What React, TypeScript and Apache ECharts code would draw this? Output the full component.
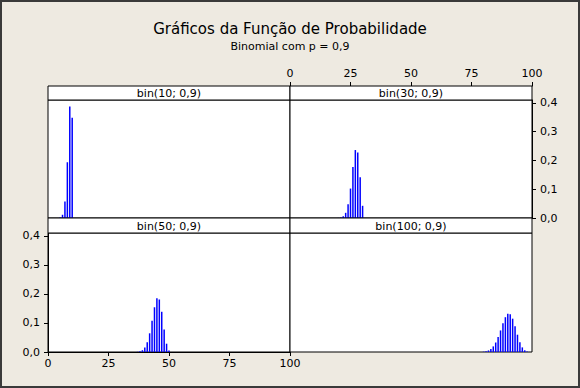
import React, { useEffect, useRef } from "react";
import * as echarts from "echarts";

// k values and probabilities
const k10 = [5, 6, 7, 8, 9, 10];
const p10 = [0.0015, 0.0112, 0.0574, 0.1937, 0.3874, 0.3487];

const k30 = [20, 21, 22, 23, 24, 25, 26, 27, 28, 29, 30];
const p30 = [0.0004, 0.0016, 0.0058, 0.018, 0.0474, 0.1023, 0.1771, 0.2361, 0.2277, 0.1413, 0.0424];

const k50 = [37, 38, 39, 40, 41, 42, 43, 44, 45, 46, 47, 48, 49, 50];
const p50 = [0.0007, 0.0022, 0.0061, 0.0152, 0.0333, 0.0644, 0.1076, 0.1541, 0.1849, 0.1809, 0.1386, 0.0779, 0.0286, 0.0052];

const k100 = [80, 81, 82, 83, 84, 85, 86, 87, 88, 89, 90, 91, 92, 93, 94, 95, 96, 97, 98, 99];
const p100 = [0.0012, 0.0026, 0.0054, 0.0106, 0.0193, 0.0327, 0.0513, 0.0743, 0.0988, 0.1199, 0.1319, 0.1304, 0.1148, 0.0889, 0.0596, 0.0339, 0.0159, 0.0059, 0.0016, 0.0003];

const panelTitles = ["bin(10; 0,9)", "bin(30; 0,9)", "bin(50; 0,9)", "bin(100; 0,9)"];
const xTicks = [0, 25, 50, 75, 100];
const yTicks = [0, 0.1, 0.2, 0.3, 0.4];

const mainTitle = "Gráficos da Função de Probabilidade";
const subTitle = "Binomial com p = 0,9";

const FONT = "DejaVu Sans";

export default function App() {
  const ref = useRef<HTMLDivElement>(null);
  useEffect(() => {
    if (!ref.current) return;
    const chart = echarts.init(ref.current, undefined, { renderer: "svg" });

    const grids = [
      { left: 48, top: 100, width: 242, height: 118 },
      { left: 290, top: 100, width: 242, height: 118 },
      { left: 48, top: 233, width: 242, height: 119 },
      { left: 290, top: 233, width: 242, height: 119 },
    ];
    const strips = [
      { x: 48, y: 86, w: 242, h: 14 },
      { x: 290, y: 86, w: 242, h: 14 },
      { x: 48, y: 218, w: 242, h: 15 },
      { x: 290, y: 218, w: 242, h: 15 },
    ];
    const dataSets = [
      k10.map((k, i) => [k, p10[i]]),
      k30.map((k, i) => [k, p30[i]]),
      k50.map((k, i) => [k, p50[i]]),
      k100.map((k, i) => [k, p100[i]]),
    ];

    const axisLineStyle = { show: true, onZero: false, lineStyle: { color: "#000", width: 1 } };
    const tickStyle = { show: true, inside: false, length: 4, lineStyle: { color: "#000" } };
    const labelStyle = { color: "#000", fontFamily: FONT, fontSize: 11 };
    const yFmt = (v: number) => v.toFixed(1).replace(".", ",");

    const xAxes = grids.map((_, i) => {
      const base: any = {
        type: "value",
        gridIndex: i,
        min: xTicks[0],
        max: xTicks[xTicks.length - 1],
        interval: 25,
        splitLine: { show: false },
      };
      if (i === 1) {
        return {
          ...base,
          position: "top",
          offset: 14,
          axisLine: axisLineStyle,
          axisTick: tickStyle,
          axisLabel: { ...labelStyle, margin: 7 },
        };
      }
      if (i === 2) {
        return {
          ...base,
          position: "bottom",
          axisLine: axisLineStyle,
          axisTick: tickStyle,
          axisLabel: { ...labelStyle, margin: 6 },
        };
      }
      return { ...base, show: false, axisLine: { show: false, onZero: false } };
    });

    const yAxes = grids.map((_, i) => {
      const base: any = {
        type: "value",
        gridIndex: i,
        min: yTicks[0],
        max: 0.41,
        interval: 0.1,
        splitLine: { show: false },
      };
      if (i === 1) {
        return {
          ...base,
          position: "right",
          axisLine: axisLineStyle,
          axisTick: tickStyle,
          axisLabel: { ...labelStyle, margin: 8, formatter: yFmt, showMaxLabel: false },
        };
      }
      if (i === 2) {
        return {
          ...base,
          position: "left",
          axisLine: axisLineStyle,
          axisTick: tickStyle,
          axisLabel: { ...labelStyle, margin: 8, formatter: yFmt, showMaxLabel: false },
        };
      }
      return { ...base, show: false, axisLine: { show: false, onZero: false } };
    });

    const graphics: any[] = [];
    strips.forEach((s, i) => {
      graphics.push({
        type: "rect",
        shape: { x: s.x, y: s.y, width: s.w, height: s.h },
        style: { fill: "#fff", stroke: "#000", lineWidth: 1 },
        z: 10,
      });
      graphics.push({
        type: "text",
        x: s.x + s.w / 2,
        y: s.y + s.h / 2 + 0.5,
        style: {
          text: panelTitles[i],
          fill: "#000",
          font: `11px "${FONT}"`,
          align: "center",
          verticalAlign: "middle",
        },
        z: 11,
      });
    });
    graphics.push({
      type: "rect",
      shape: { x: 1, y: 1, width: 578, height: 386 },
      style: { fill: "none", stroke: "#3a3a3a", lineWidth: 2 },
      z: 20,
    });

    chart.setOption({
      animation: false,
      backgroundColor: "#EEEAE1",
      title: {
        text: mainTitle,
        subtext: subTitle,
        left: "center",
        top: 16,
        itemGap: 5,
        textStyle: { color: "#000", fontFamily: FONT, fontSize: 15, fontWeight: "normal" },
        subtextStyle: { color: "#000", fontFamily: FONT, fontSize: 11 },
      },
      grid: grids.map((g) => ({
        ...g,
        show: true,
        backgroundColor: "#fff",
        borderColor: "#000",
        borderWidth: 1,
      })),
      xAxis: xAxes,
      yAxis: yAxes,
      series: dataSets.map((d, i) => ({
        type: "bar",
        xAxisIndex: i,
        yAxisIndex: i,
        data: d,
        barWidth: 1.5,
        itemStyle: { color: "#0000FF" },
      })),
      graphic: graphics,
    });
    return () => chart.dispose();
  }, []);
  return (
    <div
      ref={ref}
      style={{ position: "absolute", left: 0, top: 0, width: 580, height: 388 }}
    />
  );
}
